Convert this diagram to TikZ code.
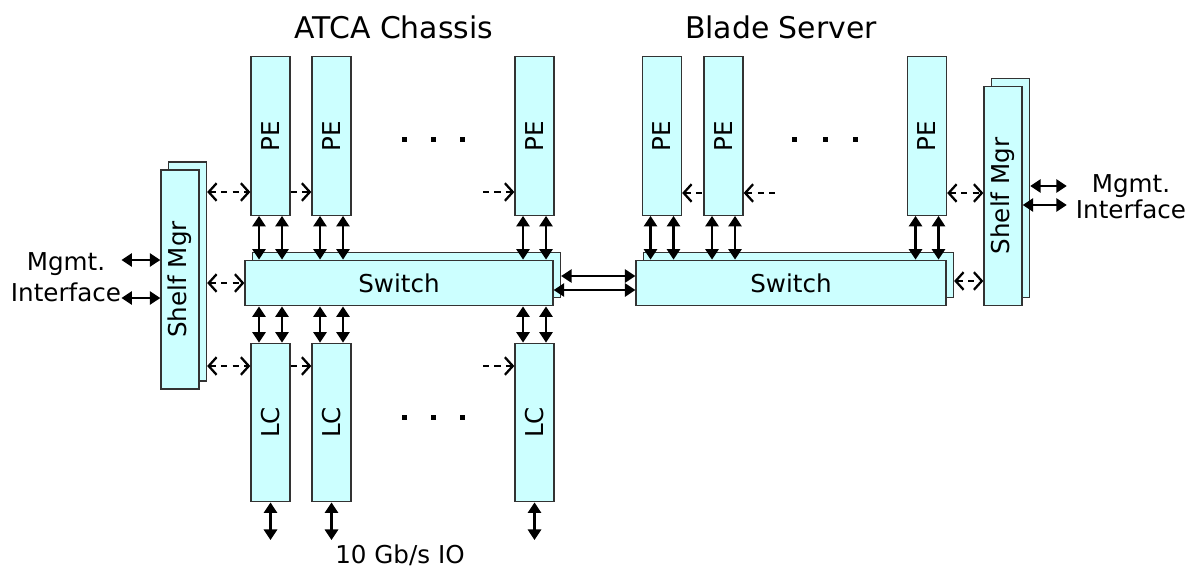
\documentclass[tikz,border=0pt]{standalone}
\usepackage{fontspec}
\setmainfont{DejaVu Sans}
\usepackage{graphicx}
\usetikzlibrary{shapes,shadows,arrows.meta,positioning,calc}
\definecolor{boxfill}{HTML}{CCFFFF}
\definecolor{boxline}{HTML}{333333}
\tikzset{
    cardbox/.style={
        rectangle,                 % tarjeta vertical (PE, LC)
        draw=boxline,              % borde gris oscuro
        fill=boxfill,              % relleno cian claro
        line width=0.75pt,         % borde fino
        inner sep=0pt,             % el texto no cambia el tamaño
        minimum width=0.78cm,      % ancho de la tarjeta
        minimum height=3.17cm,     % alto de la tarjeta
        font=\fontsize{14}{16}\selectfont
    },
    stackbox/.style={
        cardbox,
        copy shadow={shadow xshift=0.15cm, shadow yshift=0.16cm} % segunda placa detrás
    },
    shelfbox/.style={
        stackbox,
        minimum width=0.76cm,      % columna estrecha
        minimum height=4.38cm      % más alta que las tarjetas
    },
    switchbox/.style={
        stackbox,
        minimum width=6.16cm,      % barra horizontal
        minimum height=0.91cm
    },
    link/.style={
        line width=1.4pt,          % flecha doble sólida
        arrows={Triangle[length=6pt,width=7.5pt]-Triangle[length=6pt,width=7.5pt]}
    },
    ctrl/.style={
        line width=1.3pt,          % bus de gestión discontinuo
        dash pattern=on 3.5pt off 3pt,
        >={Straight Barb[length=4.5pt,width=10pt]}
    },
    title/.style={
        font=\fontsize{17}{19}\selectfont, % títulos de los bloques
        inner sep=0pt
    },
    plain/.style={
        font=\fontsize{14}{17.5}\selectfont, % etiquetas sueltas
        align=center,
        inner sep=1pt
    }
}

\begin{document}
\begin{tikzpicture}[x=0.02cm, y=-0.02cm]
\useasboundingbox (0,0) rectangle (1189,575);

\node[title] (tA) at (394,27) {ATCA Chassis};
\node[title] (tB) at (781,27) {Blade Server};

\node[shelfbox] (shelfL) at (180,279.5) {\rotatebox{90}{Shelf Mgr}};
\node[switchbox] (swA) at (399,283) {Switch};
\node[cardbox] (peA1) at (270.5,136) {\rotatebox{90}{PE}};
\node[cardbox] (peA2) at (331.5,136) {\rotatebox{90}{PE}};
\node[cardbox] (peA3) at (534.5,136) {\rotatebox{90}{PE}};
\node[cardbox] (lcA1) at (270.5,422.5) {\rotatebox{90}{LC}};
\node[cardbox] (lcA2) at (331.5,422.5) {\rotatebox{90}{LC}};
\node[cardbox] (lcA3) at (534.5,422.5) {\rotatebox{90}{LC}};

\node[switchbox, minimum width=6.2cm] (swB) at (791,283) {Switch};
\node[cardbox] (peB1) at (662,136) {\rotatebox{90}{PE}};
\node[cardbox] (peB2) at (723.5,136) {\rotatebox{90}{PE}};
\node[cardbox] (peB3) at (927,136) {\rotatebox{90}{PE}};
\node[shelfbox] (shelfR) at (1003,196) {\rotatebox{90}{Shelf Mgr}};

\node[plain, inner sep=0pt] (mgmtL) at (66,277) {Mgmt.\\Interface};
\node[plain, inner xsep=5pt] (mgmtR) at (1131,197) {Mgmt.\\[-2.5pt]Interface};
\node[plain] (io) at (400,555) {10 Gb/s IO};

\foreach \x in {404,433,462} {
  \fill (\x-2.5,137) rectangle ++(5,5);
  \fill (\x-2.5,415) rectangle ++(5,5);
}
\foreach \x in {794,825,855}
  \fill (\x-2.5,137) rectangle ++(5,5);

\coordinate (yPE) at (0,192);
\coordinate (ySW) at (0,283);
\coordinate (yLC) at (0,366);
\coordinate (yPEr) at (0,193);
\coordinate (ySWr) at (0,281);
\coordinate (yMa) at (0,260);
\coordinate (yMb) at (0,298);
\coordinate (yMc) at (0,186);
\coordinate (yMd) at (0,205);
\coordinate (ySWa) at (0,276);
\coordinate (ySWb) at (0,290);
\coordinate (busA) at (483,192);
\coordinate (busB) at (483,366);
\coordinate (busC) at (775,193);
\coordinate (ioA1) at (270.5,540);
\coordinate (ioA2) at (331.5,540);
\coordinate (ioA3) at (534.5,540);

\foreach \c in {peA1,peA2,peA3} {
  \draw[link] ([xshift=-0.23cm]\c.south) -- ([xshift=-0.23cm]\c.south |- swA.north);
  \draw[link] ([xshift=0.23cm]\c.south) -- ([xshift=0.23cm]\c.south |- swA.north);
}
\foreach \i in {1,2,3} {
  \draw[link] ([xshift=-0.23cm]lcA\i.north |- swA.south) -- ([xshift=-0.23cm]lcA\i.north);
  \draw[link] ([xshift=0.23cm]lcA\i.north |- swA.south) -- ([xshift=0.23cm]lcA\i.north);
  \draw[link] (lcA\i.south) -- (ioA\i);
}
\foreach \c in {peB1,peB2,peB3} {
  \draw[link] ([xshift=-0.23cm]\c.south) -- ([xshift=-0.23cm]\c.south |- swB.north);
  \draw[link] ([xshift=0.23cm]\c.south) -- ([xshift=0.23cm]\c.south |- swB.north);
}

\draw[link] ([xshift=0.15cm]swA.east |- ySWa) -- (swB.west |- ySWa);
\draw[link] (swA.east |- ySWb) -- (swB.west |- ySWb);

\draw[link] (mgmtL.east |- yMa) -- (shelfL.west |- yMa);
\draw[link] (mgmtL.east |- yMb) -- (shelfL.west |- yMb);
\draw[link] ([xshift=0.15cm]shelfR.east |- yMc) -- (mgmtR.west |- yMc);
\draw[link] (shelfR.east |- yMd) -- (mgmtR.west |- yMd);

\draw[ctrl,<->] ([xshift=0.15cm]shelfL.east |- yPE) -- (peA1.west |- yPE);
\draw[ctrl,->] (peA1.east |- yPE) -- (peA2.west |- yPE);
\draw[ctrl,->] (busA) -- (peA3.west |- yPE);
\draw[ctrl,<->] ([xshift=0.15cm]shelfL.east |- ySW) -- (swA.west |- ySW);
\draw[ctrl,<->] ([xshift=0.15cm]shelfL.east |- yLC) -- (lcA1.west |- yLC);
\draw[ctrl,->] (lcA1.east |- yLC) -- (lcA2.west |- yLC);
\draw[ctrl,->] (busB) -- (lcA3.west |- yLC);

\draw[ctrl,<-] (peB1.east |- yPEr) -- (peB2.west |- yPEr);
\draw[ctrl,<-] (peB2.east |- yPEr) -- (busC);
\draw[ctrl,<->] (peB3.east |- yPEr) -- (shelfR.west |- yPEr);
\draw[ctrl,<->] ([xshift=0.15cm]swB.east |- ySWr) -- (shelfR.west |- ySWr);
\end{tikzpicture}
\end{document}
